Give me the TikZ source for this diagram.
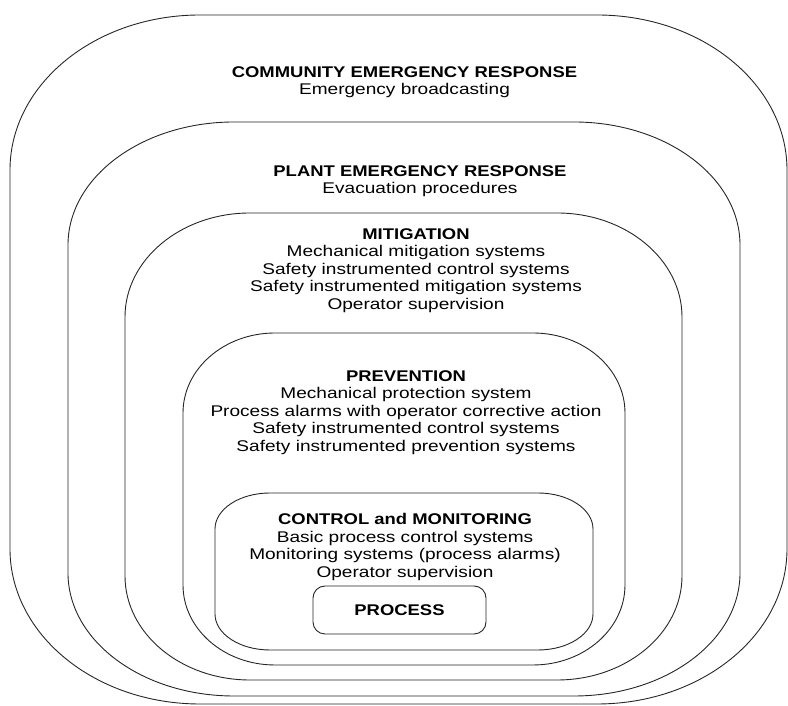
\documentclass[tikz,border=0pt]{standalone}
\usepackage{fontspec}
\setmainfont{Liberation Sans}[FakeStretch=1.23]
\newfontfamily\hdfont{Liberation Sans}[FakeStretch=1.19]
\tikzset{
  layer/.style={draw=black!85, line width=0.9pt},
  lbl/.style={anchor=north, inner sep=0pt, align=center, font=\fontsize{15.5}{17.6}\selectfont},
  procbox/.style={draw=black!85, line width=0.9pt, rounded corners=12pt, minimum width=173pt, minimum height=48pt, inner sep=0pt, font=\fontsize{15.5}{17.6}\selectfont\hdfont\bfseries},
}
\newcommand\hd[1]{{\hdfont\bfseries #1}}
\newcommand\erect[6]{%
  \draw[layer] ({#1+#5},#4) -- ({#3-#5},#4)
    arc[start angle=90,end angle=0,x radius=#5pt,y radius=#6pt] -- (#3,{#2+#6})
    arc[start angle=0,end angle=-90,x radius=#5pt,y radius=#6pt] -- ({#1+#5},#2)
    arc[start angle=270,end angle=180,x radius=#5pt,y radius=#6pt] -- (#1,{#4-#6})
    arc[start angle=180,end angle=90,x radius=#5pt,y radius=#6pt] -- cycle;}
\begin{document}
\begin{tikzpicture}[x=1pt,y=1pt]
\useasboundingbox (0,0) rectangle (788,706);
\erect{10}{2}{787}{691}{190}{155}
\erect{68}{10}{740}{584}{166}{123}
\erect{125}{26}{682}{493}{125}{104}
\erect{183}{41}{625}{373}{92}{80}
\erect{215}{56}{593}{213}{55}{36}
\node[procbox] (process) at (399.5,96) {PROCESS};
\node[lbl] (comm) at (404.5,640) {\hd{COMMUNITY EMERGENCY RESPONSE}\\Emergency broadcasting};
\node[lbl] (plant) at (420,541) {\hd{PLANT EMERGENCY RESPONSE}\\Evacuation procedures};
\node[lbl] (mitig) at (416,478) {\hd{MITIGATION}\\Mechanical mitigation systems\\Safety instrumented control systems\\Safety instrumented mitigation systems\\Operator supervision};
\node[lbl] (prev) at (406,336) {\hd{PREVENTION}\\Mechanical protection system\\Process alarms with operator corrective action\\Safety instrumented control systems\\Safety instrumented prevention systems};
\node[lbl] (ctrl) at (405,193) {\hd{CONTROL and MONITORING}\\Basic process control systems\\Monitoring systems (process alarms)\\Operator supervision};
\end{tikzpicture}
\end{document}
